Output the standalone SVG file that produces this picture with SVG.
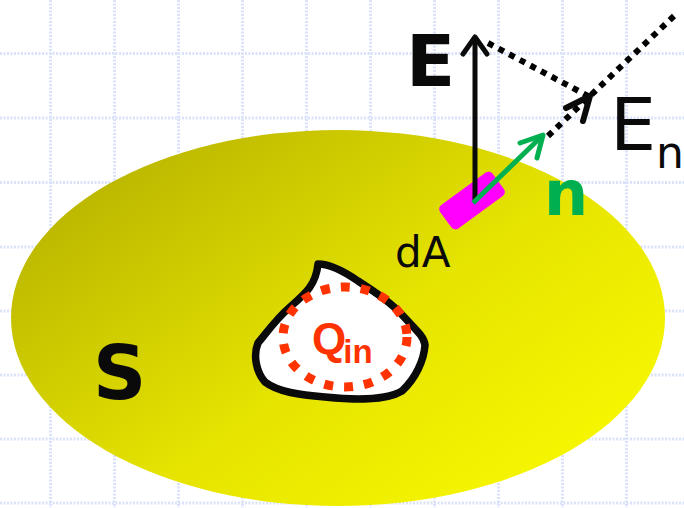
<svg xmlns="http://www.w3.org/2000/svg" width="684" height="508" viewBox="0 0 684 508">
<defs>
<linearGradient id="yg" x1="0" y1="0.1" x2="1" y2="0.9">
<stop offset="0" stop-color="#b3ae00"/>
<stop offset="0.55" stop-color="#e6e400"/>
<stop offset="1" stop-color="#fbfb00"/>
</linearGradient>
<style>
.grid line{stroke:#dbe3fb;stroke-width:3;stroke-dasharray:2 1.5}
.dot{fill:none;stroke:#000;stroke-width:6;stroke-dasharray:6 6}
.t{font-family:"DejaVu Sans",Verdana,sans-serif}
.q{font-family:"Liberation Sans",Arial,sans-serif;font-weight:bold;fill:#ff3300}
</style>
</defs>
<rect width="684" height="508" fill="#fff"/>
<g class="grid">
<line x1="50.5" y1="0" x2="50.5" y2="508"/><line x1="114.5" y1="0" x2="114.5" y2="508"/><line x1="178.5" y1="0" x2="178.5" y2="508"/><line x1="242.5" y1="0" x2="242.5" y2="508"/><line x1="306.5" y1="0" x2="306.5" y2="508"/><line x1="370.5" y1="0" x2="370.5" y2="508"/><line x1="434.5" y1="0" x2="434.5" y2="508"/><line x1="498.5" y1="0" x2="498.5" y2="508"/><line x1="562.5" y1="0" x2="562.5" y2="508"/><line x1="626.5" y1="0" x2="626.5" y2="508"/>
<line x1="0" y1="53.5" x2="684" y2="53.5"/><line x1="0" y1="118" x2="684" y2="118"/><line x1="0" y1="182.5" x2="684" y2="182.5"/><line x1="0" y1="247" x2="684" y2="247"/><line x1="0" y1="311" x2="684" y2="311"/><line x1="0" y1="375" x2="684" y2="375"/><line x1="0" y1="439" x2="684" y2="439"/><line x1="0" y1="503" x2="684" y2="503"/>
</g>
<g id="surface">
<ellipse cx="338" cy="318" rx="327" ry="188" fill="url(#yg)"/>
<text class="t" x="93" y="399" font-size="74" font-weight="bold" fill="#0a0a0a">S</text>
</g>
<g id="charge">
<path d="M318,264 C330,264 345,272 358,281 C375,292 392,303 405,318 C414,328 424,336 425,345 C424,360 416,378 402,391 C385,401 355,400 325,397 C300,395 278,392 265,382 C256,372 253,355 258,343 C265,335 275,320 290,307 C305,294 316,285 318,264 Z" fill="#fff" stroke="#0a0a0a" stroke-width="7.5" stroke-linejoin="round"/>
<ellipse cx="345" cy="337" rx="62" ry="50" fill="none" stroke="#ff3300" stroke-width="9" stroke-dasharray="9 11"/>
<text class="q" x="312" y="354" font-size="44">Q<tspan dx="-3" dy="9" font-size="33">in</tspan></text>
</g>
<g id="dA">
<rect x="439.5" y="186" width="65" height="29" rx="5" fill="#ff00ff" transform="rotate(-36 472 200.5)"/>
<text class="t" x="395" y="267" font-size="42" fill="#0a0a0a">dA</text>
</g>
<g id="labels">
<text class="t" x="610" y="150" font-size="73" fill="#0a0a0a">E<tspan x="656" y="168" font-size="44">n</tspan></text>
<text class="t" x="406" y="86" font-size="72" font-weight="bold" fill="#0a0a0a">E</text>
<text class="t" x="544" y="215" font-size="62" font-weight="bold" fill="#00b050">n</text>
</g>
<g id="connectors">
<line x1="475" y1="200" x2="475" y2="37" stroke="#0a0a0a" stroke-width="5"/>
<polyline points="463,54 475,37 487,54" fill="none" stroke="#0a0a0a" stroke-width="5" stroke-linecap="round" stroke-linejoin="round"/>
<line x1="488" y1="43" x2="588" y2="96" class="dot"/>
<line x1="548" y1="136" x2="674" y2="16" class="dot"/>
<polyline points="566,108 590,96 583,121" fill="none" stroke="#0a0a0a" stroke-width="6" stroke-linecap="round" stroke-linejoin="round"/>
<line x1="473" y1="203" x2="542" y2="136" stroke="#00b050" stroke-width="5"/>
<polyline points="520,143 543,135 537,158" fill="none" stroke="#00b050" stroke-width="5" stroke-linecap="round" stroke-linejoin="round"/>
</g>
</svg>
